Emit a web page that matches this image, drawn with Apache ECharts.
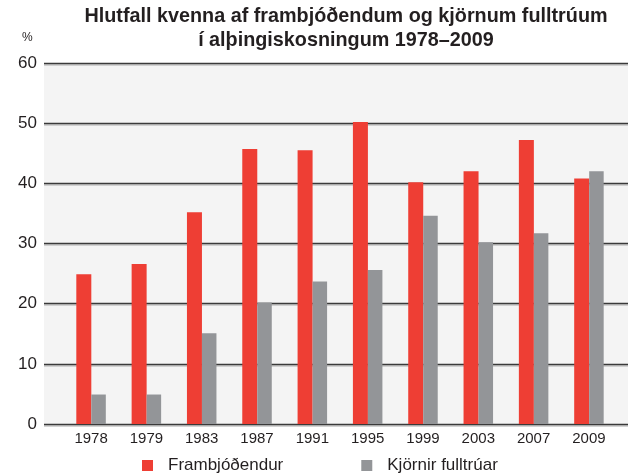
<!DOCTYPE html>
<html style="height: 100%">
<head>
    <meta charset="utf-8">
</head>
<body style="height: 100%; margin: 0; background: #fff">
<div id="container" style="width: 628px; height: 476px"></div>
<script type="text/javascript" src="https://cdn.jsdelivr.net/npm/echarts@6/dist/echarts.min.js"></script>
<script type="text/javascript">
    var years = ['1978', '1979', '1983', '1987', '1991', '1995', '1999', '2003', '2007', '2009'];
    var frambjodendur = [24.9, 26.6, 35.2, 45.7, 45.5, 50.2, 40.2, 42.0, 47.2, 40.8];
    var kjornir = [4.9, 4.9, 15.1, 20.2, 23.7, 25.6, 34.6, 30.2, 31.7, 42.0];
    var yTicks = [0, 10, 20, 30, 40, 50, 60];

    var textColor = '#231f20';
    var font = 'Liberation Sans, Arial, sans-serif';

    var dom = document.getElementById('container');
    var myChart = echarts.init(dom);

    var option = {
        backgroundColor: '#fff',
        animation: false,
        title: {
            text: 'Hlutfall kvenna af frambjóðendum og kjörnum fulltrúum\ní alþingiskosningum 1978–2009',
            left: 346,
            top: 5,
            textAlign: 'center',
            padding: 0,
            textStyle: {
                fontFamily: font,
                fontWeight: 'bold',
                fontSize: 19.8,
                lineHeight: 24,
                color: textColor
            }
        },
        graphic: [{
            type: 'text',
            left: 22,
            top: 32,
            style: { text: '%', fontFamily: font, fontSize: 12, fill: textColor }
        }],
        legend: {
            left: 142,
            top: 457,
            padding: 0,
            itemWidth: 11,
            itemHeight: 11,
            itemGap: 78,
            icon: 'rect',
            textStyle: {
                fontFamily: font,
                fontSize: 17,
                color: textColor,
                padding: [0, 0, 0, 10]
            },
            data: ['Frambjóðendur', 'Kjörnir fulltrúar']
        },
        grid: [
            { left: 44, right: 0, top: 63, bottom: 52, show: true, backgroundColor: '#f4f4f4', borderWidth: 0 },
            { left: 63.4, right: 11.4, top: 63, bottom: 52 }
        ],
        xAxis: [
            { gridIndex: 0, type: 'value', show: false, min: 0, max: 1 },
            {
                gridIndex: 1,
                type: 'category',
                data: years,
                axisLine: { show: false },
                axisTick: { show: false },
                axisLabel: { margin: 7, fontFamily: font, fontSize: 15, color: textColor }
            }
        ],
        yAxis: [
            {
                gridIndex: 0,
                type: 'value',
                min: yTicks[0],
                max: yTicks[yTicks.length - 1],
                interval: 10,
                axisLine: { show: false },
                axisTick: { show: false },
                axisLabel: { margin: 7, fontFamily: font, fontSize: 17, color: textColor },
                splitLine: {
                    lineStyle: {
                        color: '#3a3a3a',
                        width: 1.3,
                        shadowColor: '#c4c4c4',
                        shadowOffsetY: 1.5,
                        shadowBlur: 0
                    }
                }
            },
            { gridIndex: 1, type: 'value', min: 0, max: 60, show: false }
        ],
        series: [
            {
                name: 'Frambjóðendur',
                type: 'bar',
                xAxisIndex: 1,
                yAxisIndex: 1,
                data: frambjodendur,
                barWidth: 15,
                barGap: '0%',
                itemStyle: { color: '#ee3e34' }
            },
            {
                name: 'Kjörnir fulltrúar',
                type: 'bar',
                xAxisIndex: 1,
                yAxisIndex: 1,
                data: kjornir,
                barWidth: 14.5,
                barGap: '0%',
                itemStyle: { color: '#939598' }
            }
        ]
    };

    myChart.setOption(option, true);
</script>
</body>
</html>
